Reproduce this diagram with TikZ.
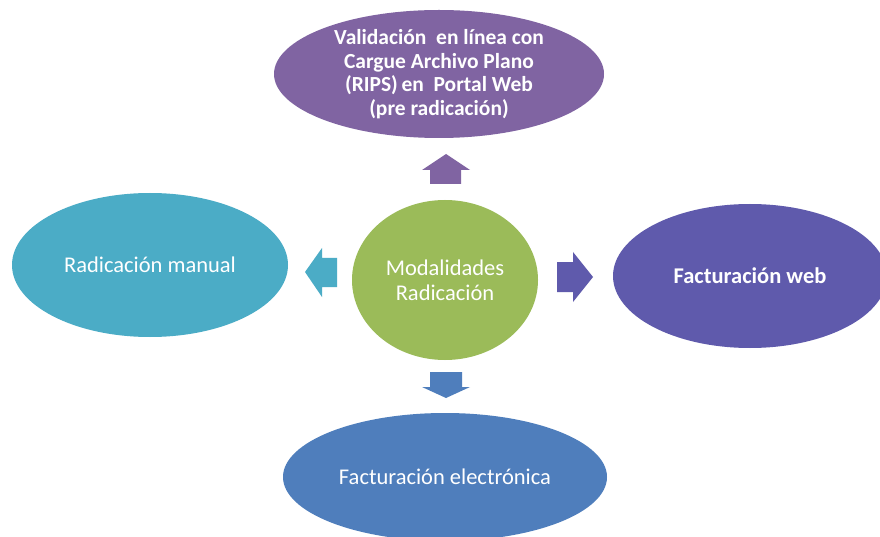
\documentclass[tikz,border=0pt]{standalone}
\usepackage{fontspec}
\setmainfont{Carlito}
\usetikzlibrary{shapes.geometric}
\definecolor{cTop}{HTML}{8064A2}
\definecolor{cMid}{HTML}{9BBB59}
\definecolor{cLeft}{HTML}{4BACC6}
\definecolor{cRight}{HTML}{5F5AAC}
\definecolor{cBot}{HTML}{4F7EBC}
\tikzset{
  blob/.style={ellipse, inner sep=0pt, text=white, align=center},
}
\begin{document}
\begin{tikzpicture}[x=1pt,y=-1pt]
\useasboundingbox (0,0) rectangle (880,537);
\fill[white] (0,0) rectangle (880,537);
% ellipses with text
\node[blob, fill=cTop, minimum width=330pt, minimum height=128pt,
  font=\fontsize{21.5}{23.5}\selectfont\bfseries] (top) at (439,74)
  {Validación\ \ en línea con\\Cargue Archivo Plano\\(RIPS)\,en\ \ Portal Web\\(pre radicación)};
\node[blob, fill=cMid, minimum width=186pt, minimum height=160pt,
  font=\fontsize{22.5}{25}\selectfont] (mid) at (445,280) {Modalidades\\Radicación};
\node[blob, fill=cLeft, minimum width=276pt, minimum height=144pt,
  font=\fontsize{22.5}{25}\selectfont] (left) at (150,265) {Radicación manual};
\node[blob, fill=cRight, minimum width=274pt, minimum height=144pt,
  font=\fontsize{22.5}{25}\selectfont\bfseries] (right) at (750,276) {Facturación web};
\node[blob, fill=cBot, minimum width=324pt, minimum height=128pt,
  font=\fontsize{22.5}{25}\selectfont] (bot) at (445,477) {Facturación electrónica};
% block arrows
\fill[cTop] (430,184) -- (430,170) -- (422,170) -- (446,154) -- (470,170) -- (461,170) -- (461,184) -- cycle;
\fill[cBot] (430,372) -- (430,387) -- (422,387) -- (446,398) -- (470,387) -- (462,387) -- (462,372) -- cycle;
\fill[cLeft] (337,258) -- (322,258) -- (322,248) -- (305,272) -- (322,297) -- (322,287) -- (337,287) -- cycle;
\fill[cRight] (557,262) -- (573,262) -- (573,252) -- (593,277) -- (573,302) -- (573,292) -- (557,292) -- cycle;
\end{tikzpicture}
\end{document}
